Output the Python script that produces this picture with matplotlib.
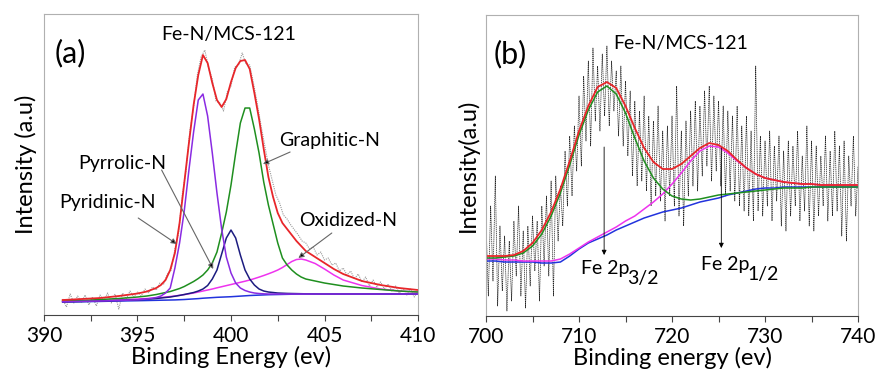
import matplotlib

matplotlib.use("Agg")
import matplotlib.pyplot as plt
from matplotlib.ticker import MultipleLocator

plt.rcParams["font.family"] = ["Lato", "DejaVu Sans"]

# ---- panel (a): N 1s -------------------------------------------------------
x_fit_a = [391, 392, 393, 394, 395, 395.5, 396, 396.25, 396.5, 396.75,
           397, 397.25, 397.5, 397.75, 398, 398.25, 398.5, 398.75, 399, 399.25,
           399.5, 399.75, 400, 400.25, 400.5, 400.75, 401, 401.25, 401.5, 401.75,
           402, 402.25, 402.5, 402.75, 403, 403.25, 403.5, 403.75, 404, 404.5,
           405, 405.5, 406, 407, 408, 409, 410]

envelope_a = [15, 16, 17, 19, 21.5, 23.5, 27, 30, 35, 45,
              62, 92, 132, 172, 210, 240, 260, 252, 232, 215,
              208, 216, 233, 247, 254, 255, 246, 222, 196, 166,
              138, 118, 102, 92, 86, 80, 74, 69, 64, 58,
              52, 46, 41, 34, 30, 27, 25]

pyridinic = [13.3, 13.7, 14, 14.5, 15.2, 16, 17.5, 19, 22, 27,
             47, 72, 104, 145, 183, 215, 221, 199, 162, 122,
             86, 58, 42, 32, 27, 24.5, 23, 22, 21.5, 21.2,
             21, 21, 21, 21, 21, 21, 21, 21, 21, 21,
             21, 21, 21, 21, 21, 21, 21]

pyrrolic = [13.2, 13.5, 14, 14.5, 15.2, 15.8, 16.5, 17, 17.5, 18,
            18.8, 19.6, 20.5, 21.5, 22.5, 24, 26, 29.5, 36, 45,
            61, 77, 85, 77, 60, 45, 36, 30, 26, 24,
            23, 22.5, 22, 21.8, 21.6, 21.5, 21.4, 21.3, 21.2, 21.1,
            21, 21, 21, 21, 21, 21, 21]

graphitic = [14, 14.5, 15.5, 16.5, 18, 19, 20.5, 21.5, 22.5, 23.5,
             25, 26.5, 28.5, 31, 33.5, 36.5, 40, 45, 52, 63,
             82, 103, 130, 162, 192, 207, 207, 186, 162, 133,
             110, 91, 72, 57, 50, 45, 41, 38, 36, 34,
             32, 30.5, 29, 27, 25.5, 24, 23]

oxidized = [13.5, 14, 14.5, 15.2, 16, 16.5, 17, 17.5, 18, 18.5,
            19, 19.7, 20.4, 21.2, 22, 23, 24, 25, 26, 27.2,
            28.3, 29.4, 30.5, 31.6, 32.7, 33.8, 35, 36.4, 37.9, 39.5,
            41.2, 43, 45, 47.5, 50.5, 53.5, 55.5, 56, 55, 51.5,
            46, 40, 35, 29.5, 26, 24, 23]

background_a = [13, 13.3, 13.6, 14, 14.3, 14.5, 14.7, 14.8, 14.9, 15,
                15.1, 15.3, 15.5, 15.8, 16.1, 16.4, 16.8, 17.1, 17.4, 17.7,
                17.9, 18.1, 18.3, 18.6, 18.9, 19.2, 19.5, 19.7, 19.9, 20.1,
                20.3, 20.4, 20.5, 20.6, 20.7, 20.8, 20.9, 21, 21, 21,
                21, 21, 21, 21, 21, 21, 21]

x_raw_a = [391 + 0.2 * i for i in range(96)]
raw_a = [16, 8, 21, 12, 19, 13, 20, 10, 18, 9,
         20, 14, 22, 12, 21, 6, 22, 16, 24, 18,
         23, 19, 26, 22, 28, 25, 32, 31, 41, 45,
         66, 82, 121, 145, 184, 208, 240, 258, 265, 247,
         236, 214, 212, 204, 223, 229, 248, 250, 262, 251,
         250, 232, 212, 190, 170, 150, 135, 120, 112, 100,
         96, 90, 85, 80, 74, 72, 66, 68, 60, 63,
         55, 57, 50, 52, 44, 47, 40, 44, 36, 41,
         33, 38, 29, 35, 28, 33, 26, 31, 24, 29,
         22, 27, 20, 26, 18, 24]

# ---- panel (b): Fe 2p ------------------------------------------------------
x_fit_b = list(range(700, 741))

envelope_b = [60, 60, 60, 61, 65, 73, 86, 104, 127, 155,
              185, 210, 229, 234, 228, 210, 188, 168, 154, 147,
              147, 152, 160, 168, 173, 171, 165, 156, 148, 142,
              138, 136, 134, 133, 132, 132, 131, 131, 131, 131, 131]

fe2p32 = [58, 58, 59, 60, 63, 70, 82, 100, 123, 151,
          181, 206, 224, 230, 222, 203, 178, 155, 138, 127,
          120, 117, 116, 117, 119, 121, 122, 123, 124, 125,
          126, 127, 128, 128, 128, 129, 129, 129, 129, 129, 129]

fe2p12 = [57, 57, 56, 56, 55, 55, 55, 55, 57, 62,
          68, 74, 79, 84, 89, 95, 100, 107, 114, 122,
          132, 143, 155, 165, 170, 169, 163, 155, 148, 142,
          138, 136, 134, 133, 132, 132, 131, 131, 131, 131, 131]

background_b = [55, 55, 54, 54, 54, 54, 53, 53, 54, 60,
                67, 73, 77, 81, 86, 90, 94, 98, 101, 104,
                106, 108, 111, 114, 116, 118, 121, 123, 125, 127,
                128, 128, 129, 129, 129, 129, 129, 129, 129, 129, 129]

x_raw_b = [700 + 0.25 * i for i in range(161)]
raw_b = [95, 20, 110, 35, 140, 10, 90, 25, 80, 5,
         75, 15, 95, 40, 110, 20, 85, 8, 90, 30,
         100, 45, 95, 15, 110, 50, 120, 40, 135, 20,
         140, 75, 130, 90, 165, 110, 180, 120, 190, 145,
         220, 150, 240, 175, 255, 170, 268, 195, 250, 185,
         262, 200, 270, 190, 255, 205, 245, 180, 250, 170,
         235, 160, 225, 140, 215, 130, 205, 135, 220, 125,
         200, 110, 195, 120, 210, 115, 185, 95, 190, 120,
         200, 110, 230, 100, 185, 90, 195, 120, 205, 130,
         215, 125, 210, 140, 225, 150, 230, 135, 220, 145,
         215, 130, 210, 120, 205, 125, 200, 115, 210, 110,
         190, 105, 200, 100, 185, 95, 250, 105, 180, 100,
         175, 110, 185, 95, 170, 115, 180, 90, 165, 85,
         175, 100, 170, 110, 185, 95, 160, 105, 190, 90,
         175, 85, 170, 100, 160, 110, 180, 95, 165, 100,
         185, 105, 170, 80, 175, 75, 160, 110, 180, 100,
         150]

RED = "#e8262a"
PURPLE = "#8a2be2"
NAVY = "#1c1c80"
GREEN = "#1f8f1f"
MAGENTA = "#ee33ee"
BLUE = "#2233dd"


def style_axes(ax, xlim, major, minor):
    ax.set_xlim(*xlim)
    ax.set_ylim(0, 301)
    ax.set_yticks([])
    ax.xaxis.set_major_locator(MultipleLocator(major))
    ax.xaxis.set_minor_locator(MultipleLocator(minor))
    ax.tick_params(axis="x", which="both", direction="out", length=4,
                   width=0.8, color="#444444", labelsize=15, pad=4)
    for side in ("left", "top", "right"):
        ax.spines[side].set_color("#b0b0b0")
    ax.spines["bottom"].set_color("#444444")


fig = plt.figure(figsize=(8.76, 3.69), dpi=100)
ax1 = fig.add_axes([0.0502, 0.1463, 0.427, 0.8157])
ax2 = fig.add_axes([0.5548, 0.1436, 0.4247, 0.8157])

# (a)
ax1.plot(x_raw_a, raw_a, color="#999999", lw=0.8, ls=(0, (1, 1)))
ax1.plot(x_fit_a, background_a, color=BLUE, lw=1.1)
ax1.plot(x_fit_a, oxidized, color=MAGENTA, lw=1.1)
ax1.plot(x_fit_a, pyrrolic, color=NAVY, lw=1.1)
ax1.plot(x_fit_a, graphitic, color=GREEN, lw=1.1)
ax1.plot(x_fit_a, pyridinic, color=PURPLE, lw=1.1)
ax1.plot(x_fit_a, envelope_a, color=RED, lw=1.3)
style_axes(ax1, (390, 410), 5, 2.5)
ax1.set_xlabel("Binding Energy (ev)", fontsize=17, labelpad=0)
ax1.set_ylabel("Intensity (a.u)", fontsize=17, labelpad=5)
ax1.text(390.55, 262, "(a)", fontsize=22, va="center")
ax1.text(399.9, 281, "Fe-N/MCS-121", fontsize=14, ha="center", va="center")

arrow_a = dict(arrowstyle="-|>", ec="#666666", fc="black", lw=0.8,
               mutation_scale=8, shrinkA=0, shrinkB=0)
labels_a = [
    ("Graphitic-N", (402.55, 175), (403.16, 163), (401.71, 151)),
    ("Pyrrolic-N", (391.85, 152), (396.29, 145), (399.05, 46)),
    ("Pyridinic-N", (390.8, 113), (395.04, 97), (397.1, 71)),
    ("Oxidized-N", (403.65, 95), (405.39, 82), (403.6, 57)),
]
for name, pos, start, end in labels_a:
    ax1.text(pos[0], pos[1], name, fontsize=14, va="center")
    ax1.annotate("", xy=end, xytext=start, arrowprops=arrow_a)

# (b)
ax2.plot(x_raw_b, raw_b, color="#222222", lw=0.5, ls=(0, (2, 1)))
ax2.plot(x_fit_b, background_b, color=BLUE, lw=1.1)
ax2.plot(x_fit_b, fe2p12, color=MAGENTA, lw=1.1)
ax2.plot(x_fit_b, fe2p32, color=GREEN, lw=1.1)
ax2.plot(x_fit_b, envelope_b, color=RED, lw=1.3)
style_axes(ax2, (700, 740), 10, 5)
ax2.set_xlabel("Binding energy (ev)", fontsize=17, labelpad=0)
ax2.set_ylabel("Intensity(a.u)", fontsize=17, labelpad=5)
ax2.text(700.8, 262, "(b)", fontsize=22, va="center")
ax2.text(720.9, 273, "Fe-N/MCS-121", fontsize=14, ha="center", va="center")

arrow_b = dict(arrowstyle="-|>", color="black", lw=0.6,
               mutation_scale=7, shrinkA=0, shrinkB=0)
ax2.annotate("", xy=(712.7, 61), xytext=(712.7, 169), arrowprops=arrow_b)
ax2.annotate("", xy=(725.3, 68), xytext=(725.3, 168), arrowprops=arrow_b)

# peak labels with a full-size, lowered subscript
for pos, sub in [((710.2, 42), "3/2"), ((723.1, 46), "1/2")]:
    t = ax2.text(pos[0], pos[1], "Fe 2p", fontsize=14, va="baseline")
    ax2.annotate(sub, xy=(1, 0), xycoords=t, xytext=(-1.5, -5),
                 textcoords="offset points", fontsize=14, va="baseline")

fig.savefig("out.png", dpi=100)
